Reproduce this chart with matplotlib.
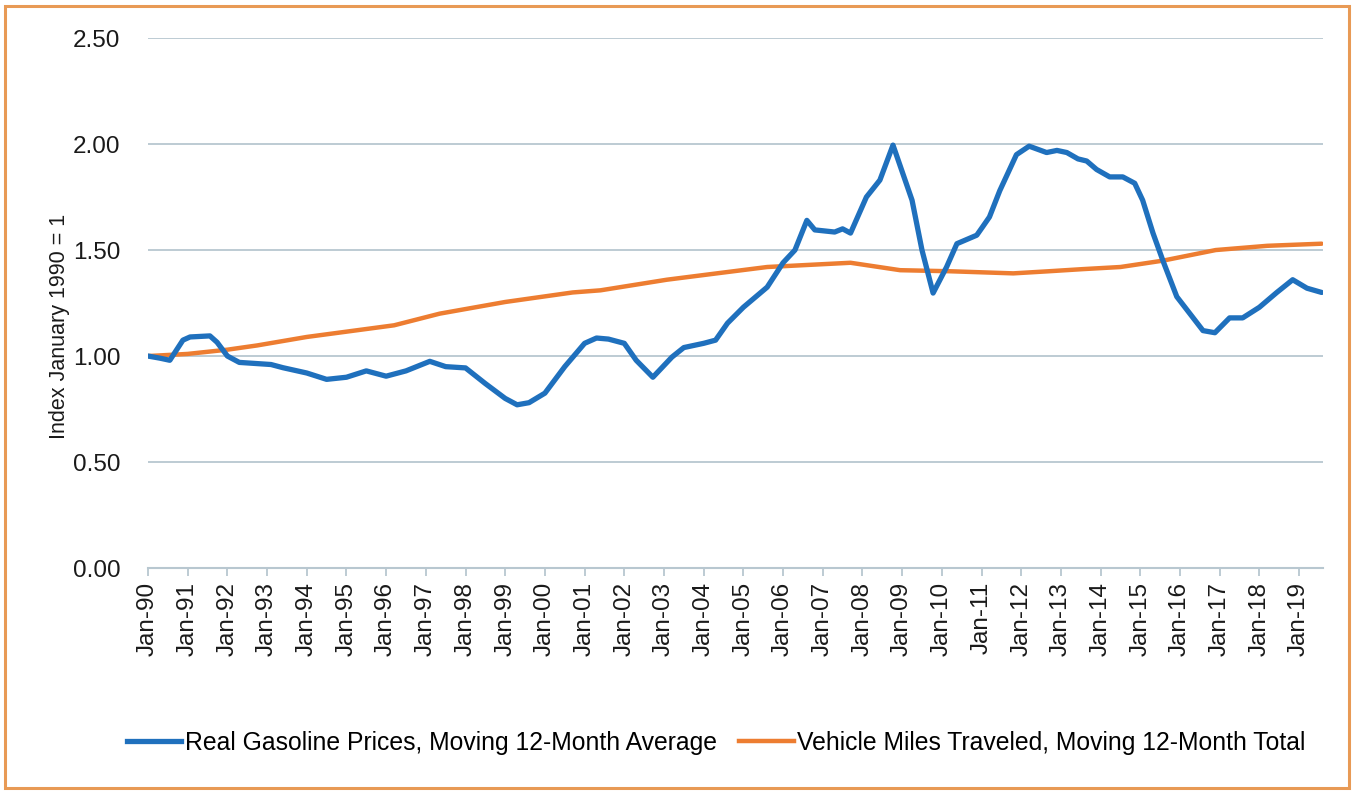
import matplotlib
matplotlib.use("Agg")
import matplotlib.pyplot as plt
from matplotlib.patches import Rectangle
from matplotlib.lines import Line2D

plt.rcParams['font.family'] = ['Liberation Sans', 'DejaVu Sans']

# ---- data (decimal years) ----
gas_dates = [1990.0, 1990.3, 1990.55, 1990.88, 1991.06, 1991.56, 1991.74, 1992.0, 1992.3,
             1993.1, 1993.4, 1994.0, 1994.5, 1995.0, 1995.5, 1996.0, 1996.5, 1997.1,
             1997.5, 1998.0, 1998.5, 1999.0, 1999.3, 1999.6, 2000.0, 2000.5, 2001.0,
             2001.3, 2001.6, 2002.0, 2002.3, 2002.72, 2003.2, 2003.5, 2004.0, 2004.3,
             2004.6, 2005.0, 2005.6, 2006.0, 2006.3, 2006.6, 2006.8, 2007.3, 2007.5,
             2007.7, 2008.1, 2008.44, 2008.77, 2009.25, 2009.5, 2009.78, 2010.12, 2010.38,
             2010.88, 2011.03, 2011.2, 2011.46, 2011.88, 2012.2, 2012.64, 2012.9, 2013.15,
             2013.43, 2013.65, 2013.9, 2014.23, 2014.56, 2014.86, 2015.06, 2015.32, 2015.57,
             2015.92, 2016.25, 2016.58, 2016.88, 2017.25, 2017.58, 2018.0, 2018.44, 2018.84,
             2019.2, 2019.57]
gas_values = [1.00, 0.99, 0.98, 1.075, 1.09, 1.095, 1.065, 1.00, 0.97,
              0.96, 0.945, 0.92, 0.89, 0.90, 0.93, 0.905, 0.93, 0.975,
              0.95, 0.944, 0.87, 0.80, 0.77, 0.78, 0.825, 0.95, 1.06,
              1.085, 1.08, 1.06, 0.98, 0.90, 0.995, 1.04, 1.06, 1.075,
              1.155, 1.23, 1.325, 1.44, 1.50, 1.64, 1.595, 1.585, 1.60,
              1.58, 1.75, 1.83, 1.995, 1.735, 1.50, 1.297, 1.42, 1.53,
              1.57, 1.61, 1.656, 1.78, 1.95, 1.99, 1.96, 1.97, 1.96,
              1.93, 1.92, 1.88, 1.845, 1.845, 1.815, 1.735, 1.58, 1.45,
              1.28, 1.20, 1.12, 1.11, 1.18, 1.18, 1.23, 1.30, 1.36,
              1.32, 1.30]

vmt_dates = [1990.0, 1991.0, 1991.5, 1992.0, 1992.75, 1994.0, 1994.8, 1996.2, 1997.35,
             1999.0, 2000.7, 2001.4, 2003.07, 2004.33, 2005.6, 2007.7, 2008.95, 2010.2,
             2011.8, 2012.7, 2013.55, 2014.5, 2015.57, 2016.9, 2018.2, 2019.57]
vmt_values = [1.00, 1.01, 1.02, 1.03, 1.05, 1.09, 1.11, 1.145, 1.20,
              1.255, 1.30, 1.31, 1.36, 1.39, 1.42, 1.44, 1.405, 1.40,
              1.39, 1.40, 1.41, 1.42, 1.45, 1.50, 1.52, 1.53]

tick_years = list(range(1990, 2020))
tick_labels = ["Jan-%02d" % (y % 100) for y in tick_years]

gas_label = "Real Gasoline Prices, Moving 12-Month Average"
vmt_label = "Vehicle Miles Traveled, Moving 12-Month Total"

BLUE = "#1f70bd"
ORANGE = "#ed7d31"
GRID = "#b8c7d0"
TXT = "#1a1a1a"

fig = plt.figure(figsize=(13.54, 7.93), dpi=100)
ax = fig.add_axes([0.1093, 0.2837, 0.8677, 0.6683])

ax.plot(vmt_dates, vmt_values, color=ORANGE, lw=3.2, solid_capstyle='round', zorder=3)
ax.plot(gas_dates, gas_values, color=BLUE, lw=3.8, solid_capstyle='round', zorder=4)

ax.set_ylim(0, 2.5)
ax.set_xlim(1990.0, 2019.6)
ax.set_yticks([0, 0.5, 1.0, 1.5, 2.0, 2.5])
ax.set_yticklabels(["%.2f" % v for v in [0, 0.5, 1.0, 1.5, 2.0, 2.5]], fontsize=17.5, color=TXT)
ax.set_xticks(tick_years)
ax.set_xticklabels(tick_labels, rotation=90, fontsize=17.5, color=TXT)
ax.tick_params(axis='y', length=0, pad=20)
ax.tick_params(axis='x', length=6, width=1.3, color=GRID, direction='out', pad=4)
ax.grid(axis='y', color=GRID, lw=1.3)
ax.set_axisbelow(True)
for s in ['left', 'right', 'top']:
    ax.spines[s].set_visible(False)
ax.spines['bottom'].set_color(GRID)
ax.spines['bottom'].set_linewidth(1.5)

ax.set_ylabel("Index January 1990 = 1", fontsize=15.5, color=TXT)
ax.yaxis.set_label_coords(-0.066, 0.455)

handles = [Line2D([], [], color=BLUE, lw=3.8), Line2D([], [], color=ORANGE, lw=3.2)]
fig.legend(handles, [gas_label, vmt_label], loc='center', bbox_to_anchor=(0.529, 1 - 743 / 793),
           ncol=2, frameon=False, fontsize=17.8, handlelength=2.2, handletextpad=0.15,
           columnspacing=0.9)

fig.patches.append(Rectangle((5 / 1354, 5 / 793), 1 - 10 / 1354, 1 - 11 / 793,
                             transform=fig.transFigure, fill=False,
                             edgecolor="#e89a55", lw=2.2))

fig.savefig("out.png", dpi=100, facecolor="white")
